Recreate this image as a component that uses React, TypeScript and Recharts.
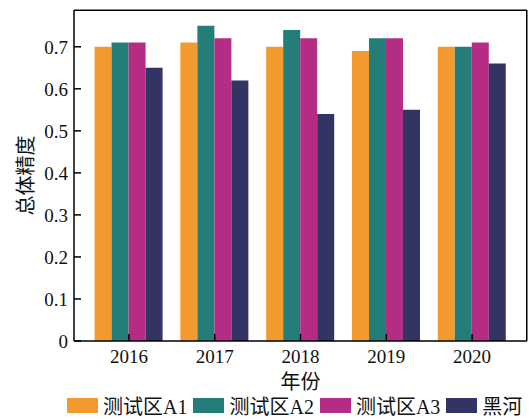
import React from 'react'
import {
  BarChart, Bar, XAxis, YAxis, Legend, CartesianGrid,
} from 'recharts'

const years = ['2016', '2017', '2018', '2019', '2020']
const areaA1 = [0.70, 0.71, 0.70, 0.69, 0.70]
const areaA2 = [0.71, 0.75, 0.74, 0.72, 0.70]
const areaA3 = [0.71, 0.72, 0.72, 0.72, 0.71]
const heihe = [0.65, 0.62, 0.54, 0.55, 0.66]
const yTicks = [0, 0.1, 0.2, 0.3, 0.4, 0.5, 0.6, 0.7]

const series = [
  { key: 'a1', name: '测试区A1', color: '#F39A2E', values: areaA1 },
  { key: 'a2', name: '测试区A2', color: '#237E7A', values: areaA2 },
  { key: 'a3', name: '测试区A3', color: '#B52C85', values: areaA3 },
  { key: 'hh', name: '黑河', color: '#323463', values: heihe },
]

const data = years.map((year, i) => {
  const row: any = { year }
  series.forEach((s) => { row[s.key] = s.values[i] })
  return row
})

const FONT = '"Times New Roman", "Liberation Serif", "Noto Sans CJK SC", serif'

const CustomLegend = () => (
  <div style={{ display: 'flex', flexWrap: 'nowrap', alignItems: 'center', fontFamily: FONT, fontSize: 20, color: '#111', paddingLeft: 67, whiteSpace: 'nowrap' }}>
    {series.map((s, i) => (
      <div key={s.key} style={{ display: 'flex', flexShrink: 0, alignItems: 'center', marginLeft: i === 0 ? 0 : 6 }}>
        <span style={{ display: 'inline-block', width: 31, height: 15, background: s.color, marginRight: 5 }} />
        <span>{s.name}</span>
      </div>
    ))}
  </div>
)

const axisStroke = { stroke: '#000', strokeWidth: 1.5 }

export default function App() {
  return (
    <div style={{ position: 'absolute', left: 0, top: 0, width: 531, height: 418, background: '#fff' }}>
      <BarChart
        width={531}
        height={418}
        data={data}
        margin={{ top: 10, right: 4, left: 0, bottom: 0 }}
        barCategoryGap="10%"
        barGap={0}
      >
        {/* top and right frame lines */}
        <CartesianGrid
          stroke="#000"
          strokeWidth={1.5}
          horizontalCoordinatesGenerator={(p: any) => [p.offset.top + 0.25]}
          verticalCoordinatesGenerator={(p: any) => [p.offset.left + p.offset.width - 0.25]}
        />
        <XAxis
          dataKey="year"
          padding={{ left: 12, right: 12 }}
          height={50}
          tickSize={-7}
          tickMargin={16}
          axisLine={axisStroke}
          tickLine={axisStroke}
          tick={{ fill: '#111', fontSize: 19, fontFamily: FONT }}
          label={{ value: '年份', position: 'insideBottom', offset: 2, fill: '#111', fontSize: 20, fontFamily: FONT }}
        />
        <YAxis
          width={74}
          domain={[0, 0.7875]}
          ticks={yTicks}
          tickFormatter={(v: number) => (v === 0 ? '0' : v.toFixed(1))}
          tickSize={-7}
          tickMargin={13}
          axisLine={axisStroke}
          tickLine={axisStroke}
          tick={{ fill: '#111', fontSize: 19, fontFamily: FONT }}
          label={{ value: '总体精度', angle: -90, position: 'center', dx: -11, fill: '#111', fontSize: 20, fontFamily: FONT }}
        />
        <Legend verticalAlign="bottom" height={27} wrapperStyle={{ left: 0, width: 531 }} content={<CustomLegend />} />
        {series.map((s) => (
          <Bar key={s.key} dataKey={s.key} name={s.name} fill={s.color} isAnimationActive={false} />
        ))}
      </BarChart>
    </div>
  )
}
